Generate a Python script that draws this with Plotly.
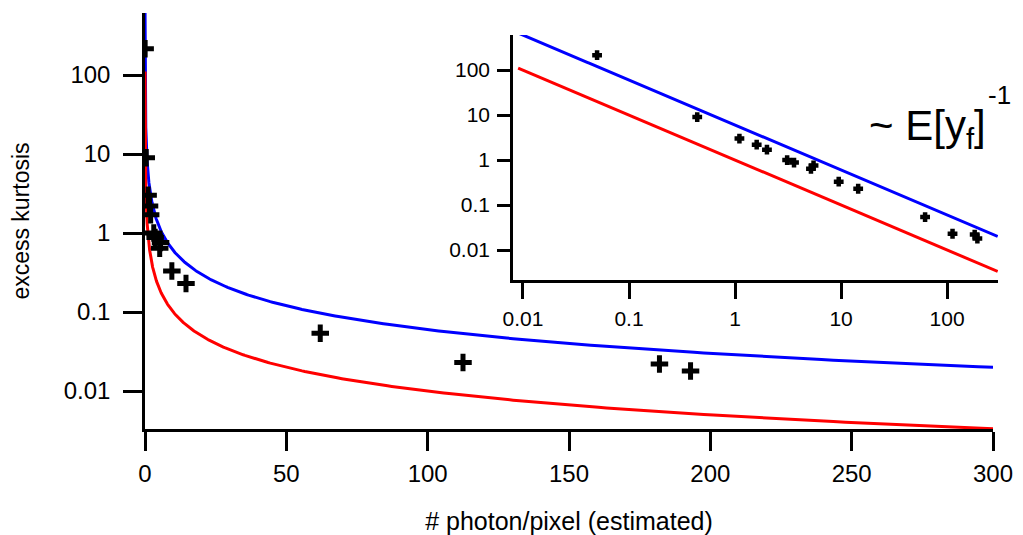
import numpy as np
import plotly.graph_objects as go

# measured data: photons/pixel vs excess kurtosis
photons = [0.05, 0.44, 1.1, 1.6, 2.0, 3.1, 3.6, 5.2, 5.5, 9.5, 14.5, 62, 112.5, 182, 193]
kurtosis = [215, 9.0, 3.0, 2.2, 1.7, 1.0, 0.88, 0.64, 0.76, 0.33, 0.23, 0.054, 0.023, 0.022, 0.018]

# model curves: coefficient / E[y]
blue_coef = 6.0
red_coef = 1.0
curve_x = np.geomspace(0.009, 300, 600)
blue_y = blue_coef / curve_x
red_y = red_coef / curve_x

y_tickvals = [0.01, 0.1, 1, 10, 100]
y_ticktext = ["0.01", "0.1", "1", "10", "100"]
x_tickvals = [0, 50, 100, 150, 200, 250, 300]
inset_x_tickvals = [0.01, 0.1, 1, 10, 100]
inset_x_ticktext = ["0.01", "0.1", "1", "10", "100"]

FONT = "Liberation Sans, Arial, sans-serif"
BLUE = "rgb(0,0,255)"
RED = "rgb(255,0,0)"

L, R, T, B = 145, 25, 13, 106
W = 1023 - L - R
H = 535 - T - B

fig = go.Figure()

# main plot
fig.add_trace(go.Scatter(x=curve_x, y=blue_y, mode="lines", line=dict(color=BLUE, width=3),
                         xaxis="x", yaxis="y", showlegend=False, hoverinfo="skip"))
fig.add_trace(go.Scatter(x=curve_x, y=red_y, mode="lines", line=dict(color=RED, width=3),
                         xaxis="x", yaxis="y", showlegend=False, hoverinfo="skip"))
fig.add_trace(go.Scatter(x=photons, y=kurtosis, mode="markers",
                         marker=dict(symbol="cross-thin", size=12.5, line=dict(width=5, color="black")),
                         xaxis="x", yaxis="y", showlegend=False))

# inset
fig.add_trace(go.Scatter(x=curve_x, y=blue_y, mode="lines", line=dict(color=BLUE, width=3),
                         xaxis="x2", yaxis="y2", showlegend=False, hoverinfo="skip"))
fig.add_trace(go.Scatter(x=curve_x, y=red_y, mode="lines", line=dict(color=RED, width=3),
                         xaxis="x2", yaxis="y2", showlegend=False, hoverinfo="skip"))
fig.add_trace(go.Scatter(x=photons, y=kurtosis, mode="markers",
                         marker=dict(symbol="cross-thin", size=7, line=dict(width=4.5, color="black")),
                         xaxis="x2", yaxis="y2", showlegend=False))

axis_common = dict(showline=True, linecolor="black", linewidth=2.5, ticks="outside",
                   tickcolor="black", tickwidth=2.5, showgrid=False, zeroline=False,
                   mirror=False, automargin=False)

fig.update_layout(
    width=1023, height=535,
    margin=dict(l=L, r=R, t=T, b=B, autoexpand=False),
    paper_bgcolor="white", plot_bgcolor="white",
    font=dict(family=FONT, color="black"),
    xaxis=dict(domain=[0, 848 / W], range=[0, 300], tickvals=x_tickvals,
               ticklen=19, tickfont=dict(size=24), ticklabelstandoff=2,
               title=dict(text="# photon/pixel (estimated)", font=dict(size=25), standoff=30),
               anchor="y", **axis_common),
    yaxis=dict(domain=[0, 1], type="log", range=[-2.48, 2.785], tickvals=y_tickvals,
               ticktext=y_ticktext, ticklen=19, tickfont=dict(size=24), ticklabelstandoff=8,
               title=dict(text="excess kurtosis", font=dict(size=23), standoff=28),
               anchor="x", **axis_common),
    xaxis2=dict(domain=[(513 - L) / W, 1], type="log", range=[-2.094, 2.48], tickvals=inset_x_tickvals,
                ticktext=inset_x_ticktext, ticklen=16, tickfont=dict(size=21), ticklabelstandoff=2,
                anchor="y2", **axis_common),
    yaxis2=dict(domain=[(535 - B - 280) / H, (535 - B - 35) / H], type="log", range=[-2.667, 2.78],
                tickvals=y_tickvals, ticktext=y_ticktext, ticklen=13, tickfont=dict(size=21),
                ticklabelstandoff=3, anchor="x2", **axis_common),
    annotations=[
        dict(text="~ E[y<sub>f</sub>]", xref="paper", yref="paper",
             x=(867 - L) / W, y=(535 - B - 128) / H, xanchor="left", yanchor="middle",
             showarrow=False, font=dict(size=42, family=FONT)),
        dict(text="-1", xref="paper", yref="paper",
             x=(986 - L) / W, y=(535 - B - 95) / H, xanchor="left", yanchor="middle",
             showarrow=False, font=dict(size=26, family=FONT)),
    ],
)

fig.write_html("out.html")
